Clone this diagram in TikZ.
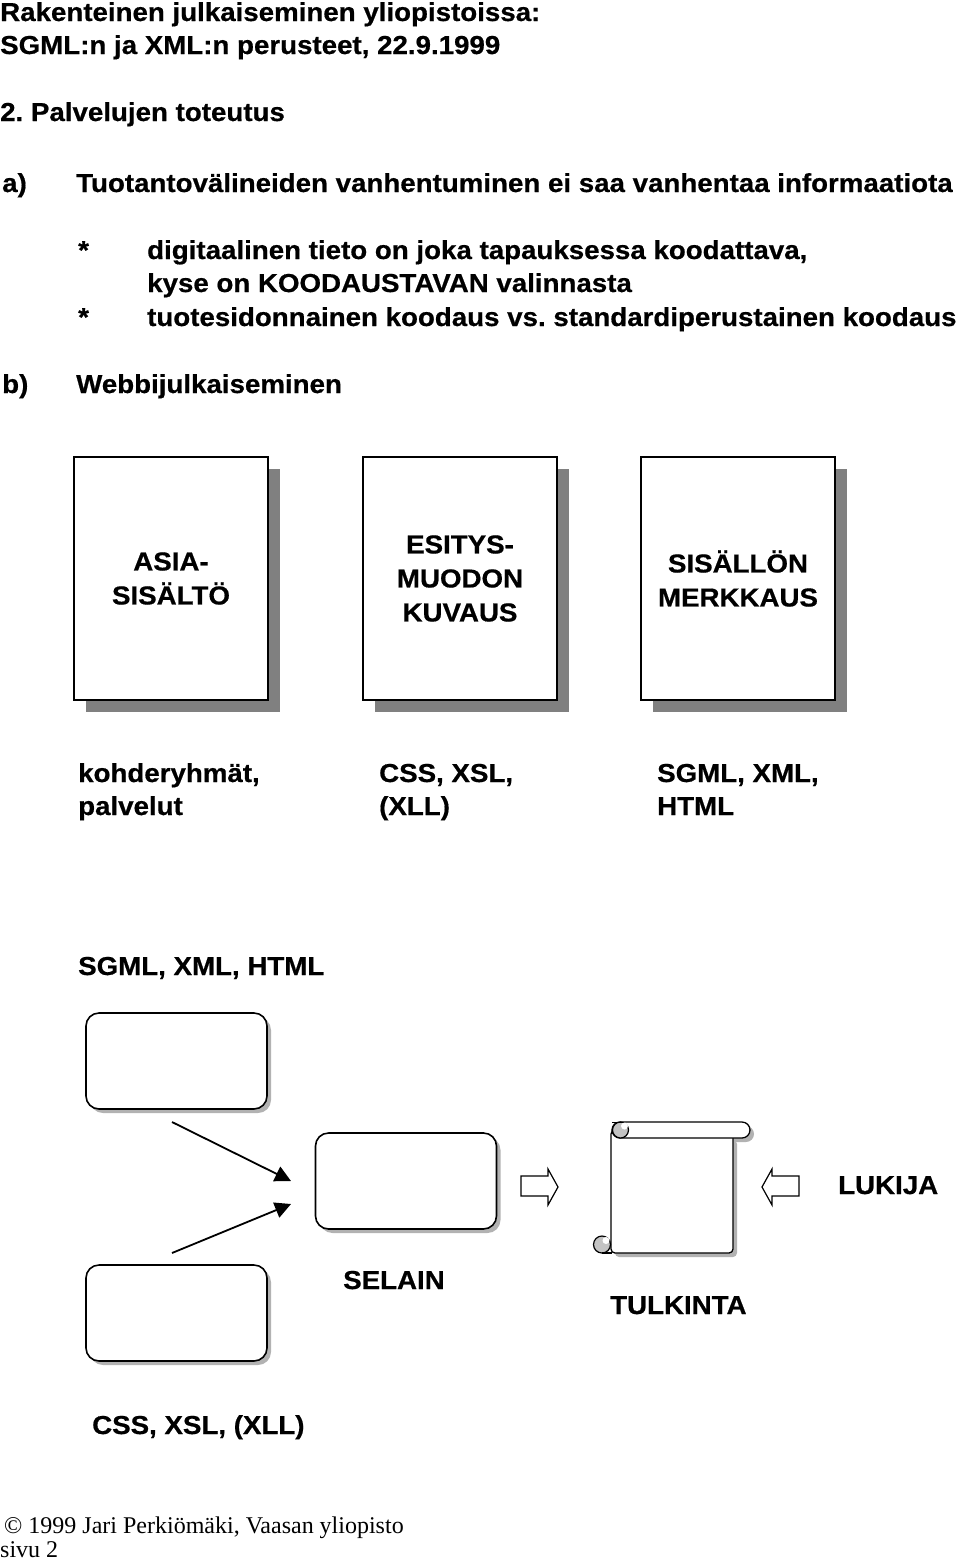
\documentclass[tikz,border=0pt]{standalone}
\usepackage{fontspec}
\newfontfamily\hb{Liberation Sans}[FakeStretch=1.065,BoldFeatures={FakeBold=0.6}]
\newfontfamily\tms{Liberation Serif}
\usetikzlibrary{arrows.meta,shadows}
\definecolor{shadowgray}{RGB}{128,128,128}
\definecolor{curlgray}{RGB}{195,195,195}
\frenchspacing
\begin{document}
\begin{tikzpicture}[x=1pt,y=-1pt,
  txt/.style={anchor=base west,inner sep=0pt,font=\hb\bfseries\fontsize{26}{34}\selectfont},
  foot/.style={anchor=base west,inner sep=0pt,font=\tms\fontsize{24}{26}\selectfont},
  docbox/.style={draw,line width=1.6pt,fill=white,minimum width=194pt,minimum height=243pt,
    align=center,inner sep=0pt,font=\hb\bfseries\fontsize{26}{34}\selectfont,
    drop shadow={shadow xshift=12pt,shadow yshift=-12pt,fill=shadowgray,opacity=1}},
  rbox/.style={draw,line width=1.6pt,fill=white,rounded corners=13pt,minimum width=181pt,
    minimum height=96pt,inner sep=0pt,
    drop shadow={shadow xshift=4pt,shadow yshift=-4pt,fill=gray!60,opacity=1}},
  conn/.style={line width=1.8pt,-{Triangle[length=16pt,width=16pt]}},
  blockarrow/.style={draw,line width=1.2pt,fill=white,line join=miter}
]
\useasboundingbox (0,0) rectangle (960,1564);

% header texts
\node[txt] (t1) at (0,21) {Rakenteinen julkaiseminen yliopistoissa:};
\node[txt] (t2) at (0,54) {SGML:n ja XML:n perusteet, 22.9.1999};
\node[txt] (t3) at (0,121) {2. Palvelujen toteutus};
\node[txt] (la) at (2,192) {a)};
\node[txt] (ta) at (76,192) {Tuotantovälineiden vanhentuminen ei saa vanhentaa informaatiota};
\node[txt] (s1) at (78,259) {*};
\node[txt] (d1) at (147,259) {digitaalinen tieto on joka tapauksessa koodattava,};
\node[txt] (d2) at (147,292) {kyse on KOODAUSTAVAN valinnasta};
\node[txt] (s2) at (78,326) {*};
\node[txt] (d3) at (147,326) {tuotesidonnainen koodaus vs. standardiperustainen koodaus};
\node[txt] (lb) at (2,393) {b)};
\node[txt] (tb) at (76,393) {Webbijulkaiseminen};

% three document boxes
\node[docbox] (b1) at (171,578.5) {ASIA-\\SISÄLTÖ};
\node[docbox] (b2) at (460,578.5) {ESITYS-\\MUODON\\KUVAUS};
\node[docbox] (b3) at (738,578.5) {SISÄLLÖN\\MERKKAUS};

\node[txt] (k1) at (78,782) {kohderyhmät,};
\node[txt] (k2) at (78,815) {palvelut};
\node[txt] (c1) at (379,782) {CSS, XSL,};
\node[txt] (c2) at (379,815) {(XLL)};
\node[txt] (h1) at (657,782) {SGML, XML,};
\node[txt] (h2) at (657,815) {HTML};

\node[txt] (sx) at (78,975) {SGML, XML, HTML};

% rounded boxes
\node[rbox] (r1) at (176.5,1061) {};
\node[rbox] (r2) at (406,1181) {};
\node[rbox] (r3) at (176.5,1313) {};

\coordinate (a1s) at (172,1122);
\coordinate (a1e) at (291,1181);
\coordinate (a2s) at (172,1253);
\coordinate (a2e) at (291,1204);
\draw[conn] (a1s) -- (a1e);
\draw[conn] (a2s) -- (a2e);

% block arrows
\draw[blockarrow] (521,1176) -- (548,1176) -- (548,1169) -- (558,1187) -- (548,1205) -- (548,1196) -- (521,1196) -- cycle;
\draw[blockarrow] (799,1176) -- (772,1176) -- (772,1169) -- (762,1187) -- (772,1205) -- (772,1196) -- (799,1196) -- cycle;

% scroll
\fill[gray!60,rounded corners=8pt] (616,1126) rectangle (754,1142);
\fill[gray!60,rounded corners=4pt] (615,1140) rectangle (737,1257);
\draw[fill=white,line width=1.3pt,rounded corners=4pt] (611,1130) -- (611,1253) -- (733,1253) -- (733,1134) -- cycle;
\draw[fill=white,line width=1.3pt,rounded corners=8pt] (612,1122) rectangle (750,1138);
\draw[fill=curlgray,line width=1.2pt] (620.5,1130) circle (8pt);
\fill[white] (624.5,1126) circle (3.5pt);
\draw[line width=1.2pt] (612,1122.5) -- (621,1122.5);
\draw[fill=curlgray,line width=1.2pt] (602,1244.5) circle (8.5pt);
\fill[white] (606,1240.5) circle (3.5pt);
\draw[line width=1.3pt] (602,1253) -- (612,1253);

\node[txt] (sel) at (343,1289) {SELAIN};
\node[txt] (tul) at (610,1314) {TULKINTA};
\node[txt] (luk) at (838,1194) {LUKIJA};
\node[txt] (cx) at (92,1434) {CSS, XSL, (XLL)};

% footer
\node[foot] (f1) at (4,1533) {© 1999 Jari Perkiömäki, Vaasan yliopisto};
\node[foot] (f2) at (0,1557) {sivu 2};
\end{tikzpicture}
\end{document}
